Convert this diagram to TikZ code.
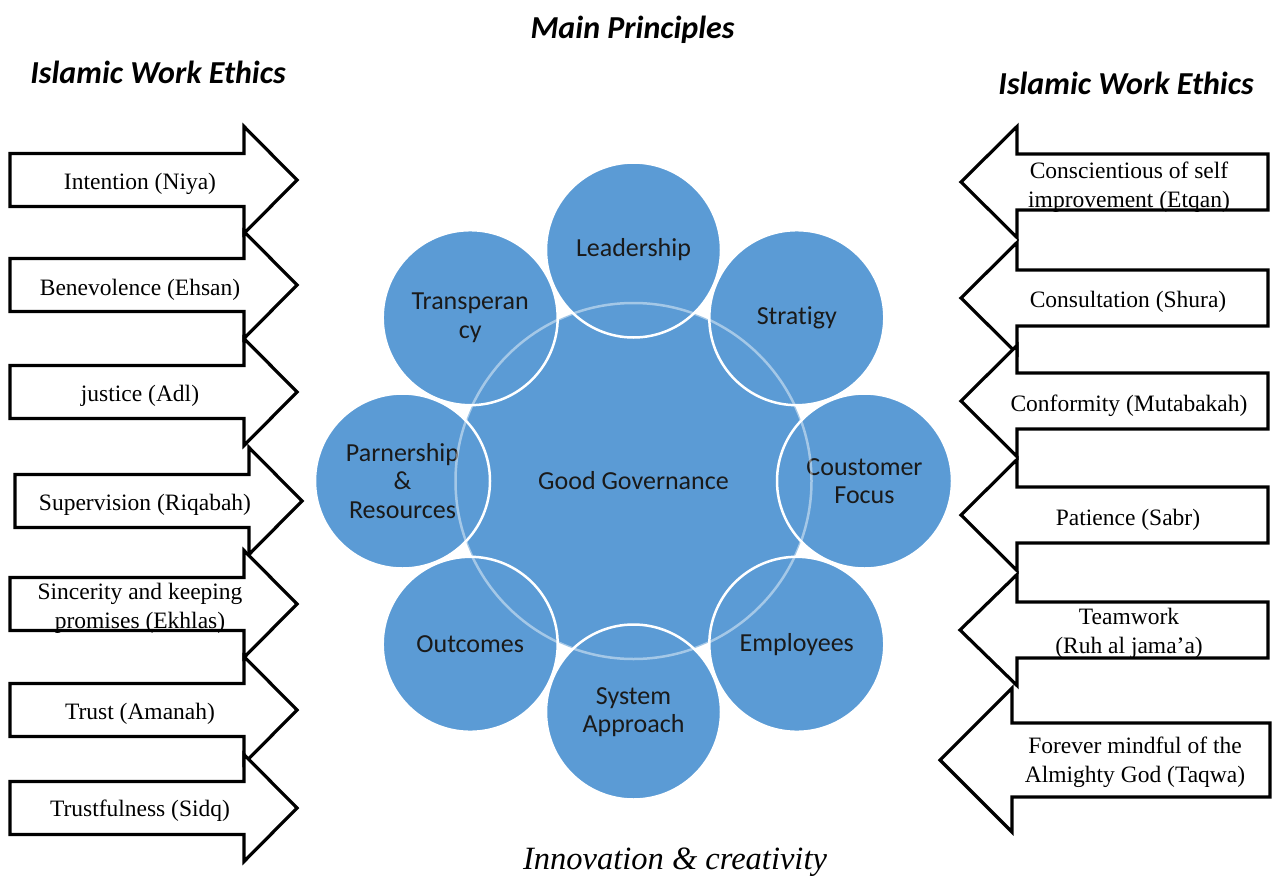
\documentclass[tikz,border=0pt]{standalone}
\usepackage{fontspec}
\setmainfont{Liberation Serif}
\newfontfamily\calibri[Ligatures=NoCommon]{Carlito}
\definecolor{govblue}{HTML}{5B9BD5}
\definecolor{labelgray}{HTML}{1A1A1A}

\begin{document}
\begin{tikzpicture}[
  x=1pt,
  y=-1pt,
  arrowline/.style={
    draw=black,
    fill=white,
    line width=3.2pt,
    line join=miter
  },
  ethic/.style={
    align=center,
    inner sep=0pt,
    font=\fontsize{23.5}{29}\selectfont
  },
  principle/.style={
    circle,
    fill=govblue,
    draw=white,
    line width=2.5pt,
    minimum size=175pt,
    inner sep=0pt,
    align=center,
    text=labelgray,
    font=\calibri\fontsize{26}{28.5}\selectfont
  },
  heading/.style={
    anchor=base,
    font=\calibri\bfseries\itshape\fontsize{32}{38}\selectfont
  }
]
\useasboundingbox (0,0) rectangle (1276,875);

% headings
\node[heading] (mainhead) at (632.5,39) {Main Principles};
\node[heading] (lefthead) at (158,83) {Islamic Work Ethics};
\node[heading] (righthead) at (1126,94) {Islamic Work Ethics};
\node[anchor=base, font=\itshape\fontsize{32.5}{38}\selectfont] (innov) at (675,869) {Innovation \& creativity};

% left column, arrows pointing right
\filldraw[arrowline] (10,153.5) -- (244,153.5) -- (244,126.5) -- (297,180) -- (244,233.5) -- (244,206.5) -- (10,206.5) -- cycle;
\filldraw[arrowline] (10,258.5) -- (244,258.5) -- (244,231.5) -- (297,285) -- (244,338.5) -- (244,311.5) -- (10,311.5) -- cycle;
\filldraw[arrowline] (10,365.5) -- (244,365.5) -- (244,338.5) -- (297,392) -- (244,445.5) -- (244,418.5) -- (10,418.5) -- cycle;
\filldraw[arrowline] (15,474.5) -- (249,474.5) -- (249,447.5) -- (302,501) -- (249,554.5) -- (249,527.5) -- (15,527.5) -- cycle;
\filldraw[arrowline] (10,577.5) -- (244,577.5) -- (244,550.5) -- (297,604) -- (244,657.5) -- (244,630.5) -- (10,630.5) -- cycle;
\filldraw[arrowline] (10,683.5) -- (244,683.5) -- (244,656.5) -- (297,710) -- (244,763.5) -- (244,736.5) -- (10,736.5) -- cycle;
\filldraw[arrowline] (10,781.5) -- (244,781.5) -- (244,754.5) -- (297,808) -- (244,861.5) -- (244,834.5) -- (10,834.5) -- cycle;

\node[ethic] (niya) at (140,184) {Intention (Niya)};
\node[ethic] (ehsan) at (140,290) {Benevolence (Ehsan)};
\node[ethic] (adl) at (140,396) {justice (Adl)};
\node[ethic] (riqabah) at (145,505) {Supervision (Riqabah)};
\node[ethic] (ekhlas) at (140,608) {Sincerity and keeping\\promises (Ekhlas)};
\node[ethic] (amanah) at (140,714) {Trust (Amanah)};
\node[ethic] (sidq) at (140,811) {Trustfulness (Sidq)};

% right column, arrows pointing left
\filldraw[arrowline] (1268,154) -- (1017,154) -- (1017,126.5) -- (961,182) -- (1017,237.5) -- (1017,210) -- (1268,210) -- cycle;
\filldraw[arrowline] (1268,270) -- (1017,270) -- (1017,242.5) -- (961,298) -- (1017,353.5) -- (1017,326) -- (1268,326) -- cycle;
\filldraw[arrowline] (1268,373) -- (1017,373) -- (1017,345.5) -- (961,401) -- (1017,456.5) -- (1017,429) -- (1268,429) -- cycle;
\filldraw[arrowline] (1268,487) -- (1017,487) -- (1017,459.5) -- (961,515) -- (1017,570.5) -- (1017,543) -- (1268,543) -- cycle;
\filldraw[arrowline] (1268,602) -- (1017,602) -- (1017,574.5) -- (960,630) -- (1017,685.5) -- (1017,658) -- (1268,658) -- cycle;
\filldraw[arrowline] (1270,723) -- (1012,723) -- (1012,688) -- (940,760) -- (1012,832) -- (1012,797) -- (1270,797) -- cycle;

\node[ethic] (etqan) at (1129,187) {Conscientious of self\\improvement (Etqan)};
\node[ethic] (shura) at (1128,302) {Consultation (Shura)};
\node[ethic] (mutabakah) at (1129,406) {Conformity (Mutabakah)};
\node[ethic] (sabr) at (1128,520) {Patience (Sabr)};
\node[ethic] (jamaa) at (1129,633) {Teamwork\\(Ruh al jama’a)};
\node[ethic] (taqwa) at (1135,762) {Forever mindful of the\\Almighty God (Taqwa)};

% governance wheel
\fill[govblue] (633.5,481) circle (178);
\node[principle] (lead) at (633.5,250) {Leadership};
\node[principle] (strat) at (796.8,317.7) {Stratigy};
\node[principle] (coust) at (864.5,481) {Coustomer\\Focus};
\node[principle] (empl) at (796.8,644.3) {Employees};
\node[principle] (sys) at (633.5,712) {System\\Approach};
\node[principle] (outc) at (470.2,644.3) {Outcomes};
\node[principle] (parn) at (402.5,481) {Parnership\\\&\\Resources};
\node[principle] (trans) at (470.2,317.7) {Transperan\\cy};
\node[principle, fill=none, draw opacity=0.45, minimum size=356pt] (core) at (633.5,481) {Good Governance};

\end{tikzpicture}
\end{document}
